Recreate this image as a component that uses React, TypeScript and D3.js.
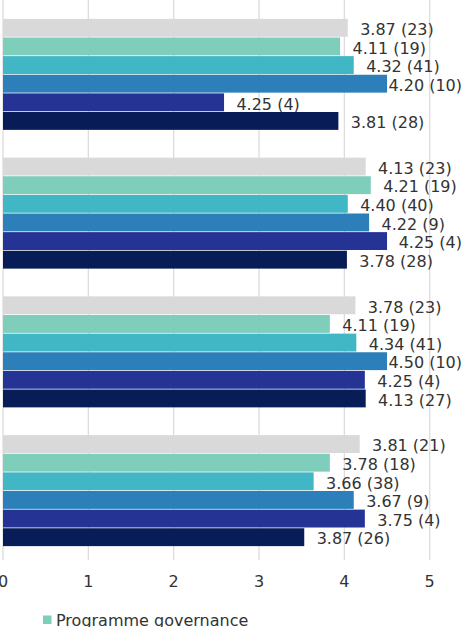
import React, { useEffect, useRef } from "react";
import * as d3 from "d3";

// four question groups, six respondent groups each
const groups = ["Q1", "Q2", "Q3", "Q4"];
const seriesKeys = ["all", "governance", "s3", "s4", "s5", "s6"];
const seriesColors = ["#d9d9d9", "#7fcdbb", "#41b6c4", "#2c7fb8", "#253494", "#081d58"];

// bar lengths as drawn
const barValues = [
  [4.04, 3.95, 4.11, 4.5, 2.59, 3.93],
  [4.25, 4.31, 4.04, 4.29, 4.5, 4.03],
  [4.13, 3.83, 4.14, 4.5, 4.24, 4.25],
  [4.18, 3.83, 3.64, 4.11, 4.24, 3.53],
];

// label text: mean (n)
const means = [
  ["3.87", "4.11", "4.32", "4.20", "4.25", "3.81"],
  ["4.13", "4.21", "4.40", "4.22", "4.25", "3.78"],
  ["3.78", "4.11", "4.34", "4.50", "4.25", "4.13"],
  ["3.81", "3.78", "3.66", "3.67", "3.75", "3.87"],
];
const counts = [
  [23, 19, 41, 10, 4, 28],
  [23, 19, 40, 9, 4, 28],
  [23, 19, 41, 10, 4, 27],
  [21, 18, 38, 9, 4, 26],
];

const xTicks = [0, 1, 2, 3, 4, 5];
const legendItems = [{ name: "Programme governance", color: "#7fcdbb" }];

const App: React.FC = () => {
  const svgRef = useRef<SVGSVGElement | null>(null);
  const width = 463;
  const height = 627;

  useEffect(() => {
    const svg = d3.select(svgRef.current);
    svg.selectAll("*").remove();
    const font = "'DejaVu Sans', Verdana, sans-serif";

    const x = d3.scaleLinear().domain([0, 5]).range([3, 429.7]);
    const y = d3
      .scaleBand()
      .domain(groups)
      .range([5, 560])
      .paddingInner(0.2)
      .paddingOuter(0.1);
    const ySub = d3
      .scaleBand()
      .domain(seriesKeys)
      .range([0, y.bandwidth()])
      .paddingInner(0.04);

    // grid lines
    svg
      .append("g")
      .selectAll("line")
      .data(xTicks)
      .enter()
      .append("line")
      .attr("x1", (d) => x(d))
      .attr("x2", (d) => x(d))
      .attr("y1", 0)
      .attr("y2", 560)
      .attr("stroke", "#dcdcdc")
      .attr("stroke-width", 1.3);

    // bars
    const g = svg
      .append("g")
      .selectAll("g")
      .data(groups)
      .enter()
      .append("g")
      .attr("transform", (d) => `translate(0, ${y(d)})`);

    g.selectAll("rect")
      .data((_, i) => barValues[i].map((v, j) => ({ v, j })))
      .enter()
      .append("rect")
      .attr("x", x(0))
      .attr("y", (d) => ySub(seriesKeys[d.j]) as number)
      .attr("width", (d) => x(d.v) - x(0))
      .attr("height", ySub.bandwidth())
      .attr("fill", (d) => seriesColors[d.j]);

    // value labels, pushed back inside if they would run off the right edge
    g.selectAll("text")
      .data((_, i) => barValues[i].map((v, j) => ({ v, j, t: `${means[i][j]} (${counts[i][j]})` })))
      .enter()
      .append("text")
      .attr("y", (d) => (ySub(seriesKeys[d.j]) as number) + ySub.bandwidth() / 2)
      .attr("dy", "0.45em")
      .attr("font-family", font)
      .attr("font-size", 16)
      .attr("fill", "#333")
      .text((d) => d.t)
      .attr("x", function (d) {
        const w = (this as SVGTextElement).getComputedTextLength();
        return Math.min(x(d.v) + 12.4, width - 1 - w);
      });

    // x axis labels
    svg
      .append("g")
      .selectAll("text")
      .data(xTicks)
      .enter()
      .append("text")
      .attr("x", (d) => x(d))
      .attr("y", 586.7)
      .attr("text-anchor", "middle")
      .attr("font-family", font)
      .attr("font-size", 16)
      .attr("fill", "#333")
      .text((d) => d);

    // legend
    const lg = svg
      .append("g")
      .selectAll("g")
      .data(legendItems)
      .enter()
      .append("g")
      .attr("transform", (_, i) => `translate(43, ${615.5 + i * 22})`);
    lg.append("rect").attr("width", 8.5).attr("height", 8.5).attr("fill", (d) => d.color);
    lg.append("text")
      .attr("x", 13)
      .attr("y", 10.2)
      .attr("font-family", font)
      .attr("font-size", 16)
      .attr("fill", "#333")
      .text((d) => d.name);
  }, []);

  return (
    <svg
      ref={svgRef}
      width={width}
      height={height}
      style={{ position: "absolute", left: 0, top: 0, background: "#fff" }}
    ></svg>
  );
};

export default App;
